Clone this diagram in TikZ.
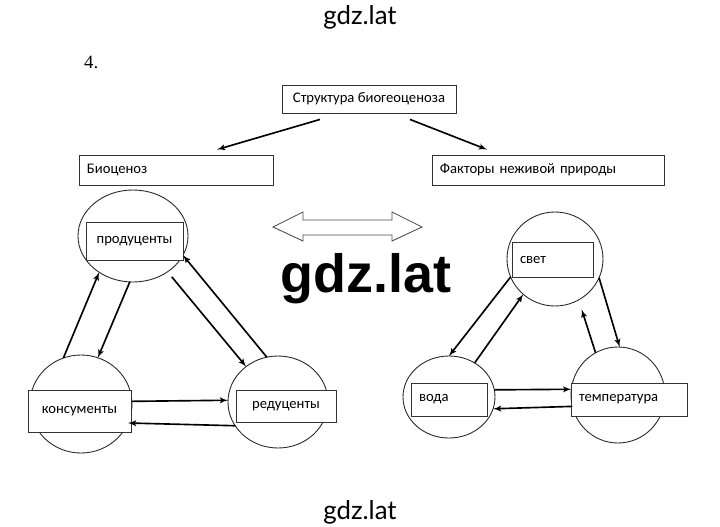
\documentclass[tikz,border=0pt]{standalone}
\usepackage{fontspec}
\setmainfont{Carlito}
\newfontfamily\wmfont{Lato}
\newfontfamily\wmbold{Liberation Sans}
\newfontfamily\numfont{Liberation Serif}
\usetikzlibrary{arrows}
\usetikzlibrary{shapes.geometric}

\tikzset{
  box/.style={draw=black!80, line width=0.75pt, fill=white, minimum height=0.84cm,
    inner xsep=0.24cm, align=left, font=\fontsize{12.5}{14}\selectfont},
  circ/.style={draw=black!85, line width=0.75pt, ellipse, inner sep=0pt, outer sep=0pt},
  arr/.style={black, line width=1.4pt, ->, >=latex'},
  wm/.style={font=\wmfont\fontsize{22}{26}\selectfont},
}

\begin{document}
\begin{tikzpicture}[x=0.03cm, y=-0.03cm]
\useasboundingbox (0,0) rectangle (720,526);

% watermarks and number
\node[wm] (wmtop) at (360,17) {gdz.lat};
\node[wm] (wmbot) at (360,512) {gdz.lat};
\node[anchor=west] (num) at (80,62) {\numfont\fontsize{16}{18}\selectfont 4.};

% top level
\node[box, minimum width=5.22cm] (struct) at (369,99) {Структура биогеоценоза};
\node[box, text width=5.34cm, minimum height=0.9cm] (bio) at (176,170) {Биоценоз};
\node[box, text width=6.48cm, minimum height=0.9cm] (fakt) at (548,170) {Факторы неживой природы};
\draw[arr] ([shift={(-49,6)}]struct.south) -- ([shift={(41,-5)}]bio.north);
\draw[arr] ([shift={(41,6)}]struct.south) -- ([shift={(-61,-5)}]fakt.north);

% hollow double arrow
\draw[black!70, line width=0.75pt] (273,227) -- (303,212) -- (303,220) -- (392,220) -- (392,212)
  -- (422,227) -- (392,241) -- (392,235) -- (303,235) -- (303,241) -- cycle;

% biocenosis
\node[circ, minimum width=3.3cm, minimum height=2.76cm] (prod) at (133,236) {};
\node[circ, minimum width=3.06cm, minimum height=2.94cm] (kons) at (81,404) {};
\node[circ, minimum width=3.0cm, minimum height=2.76cm] (red) at (278,402) {};
\node[box, align=center, minimum width=2.91cm, minimum height=1.14cm] (prodbox) at (134.5,241) {продуценты};
\node[box, align=center, minimum width=3.09cm, minimum height=1.26cm] (konsbox) at (79.5,411) {консументы};
\node[box, align=center, minimum width=3.0cm, minimum height=0.96cm] (redbox) at (286,406) {редуценты};
\draw[arr] (kons.111) -- (prod.227);
\draw[arr] (prod.266) -- (kons.70);
\draw[arr, shorten <=0.2cm] (prod.314) -- (red.132);
\draw[arr] (red.104) -- (prod.339);
\draw[arr] (kons.3) -- (red.178);
\draw[arr] (red.209) -- (kons.338);

% abiotic factors
\node[circ, minimum width=2.88cm, minimum height=2.82cm] (svet) at (555,259) {};
\node[circ, minimum width=2.76cm, minimum height=2.46cm] (voda) at (449,397) {};
\node[circ, minimum width=2.82cm, minimum height=2.88cm] (temp) at (618,395) {};
\node[box, text width=1.95cm, minimum height=1.05cm] (svetbox) at (552.5,259.5) {свет};
\node[box, text width=1.8cm, minimum height=0.99cm] (vodabox) at (449,399.5) {вода};
\node[box, text width=3.0cm, minimum height=0.99cm] (tempbox) at (629,399.5) {температура};
\draw[arr] (svet.202) -- (voda.90);
\draw[arr] (voda.53) -- (svet.228);
\draw[arr] (svet.337) -- (temp.88);
\draw[arr, shorten >=0.3cm] (temp.118) -- (svet.300);
\draw[arr] (voda.9) -- (temp.173);
\draw[arr] (temp.194) -- (voda.345);

\node (wmmid) at (366,279) {\wmbold\bfseries\fontsize{46}{52}\selectfont gdz.lat};
\end{tikzpicture}
\end{document}
